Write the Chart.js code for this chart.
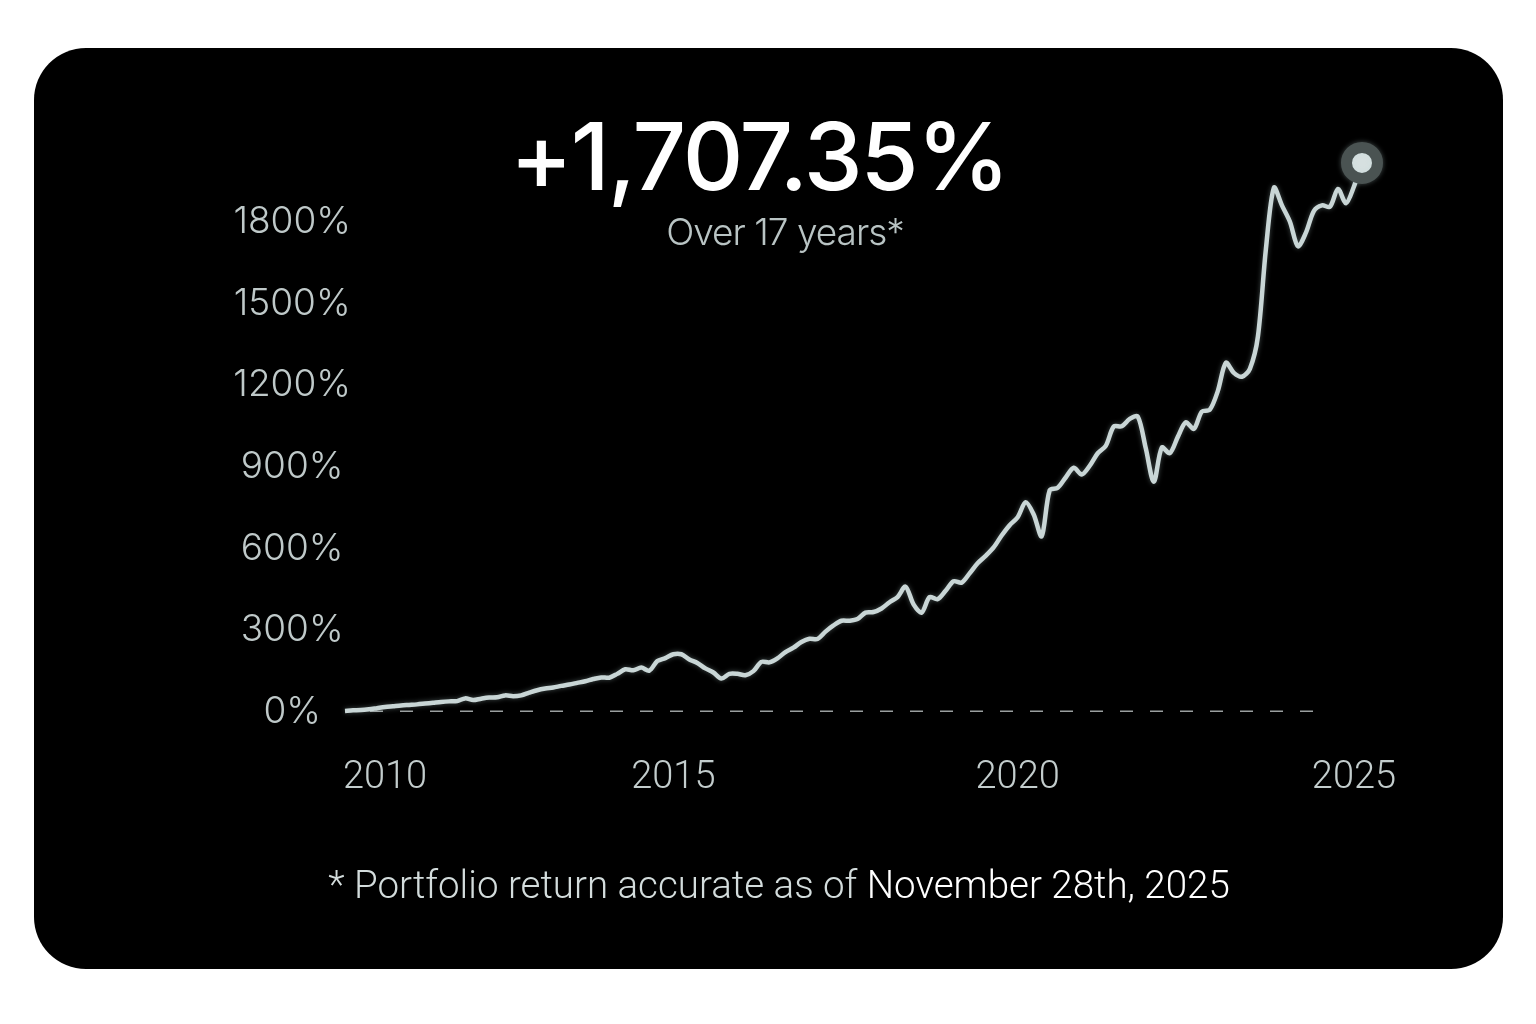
<!DOCTYPE html>
<html>
<head>
<meta charset="utf-8">
<script src="https://cdn.jsdelivr.net/npm/chart.js@4.4.1/dist/chart.umd.min.js"></script>
<style>
  html, body { margin: 0; padding: 0; background: #ffffff; }
  body { width: 1536px; height: 1024px; position: relative; overflow: hidden; }
  .card {
    position: absolute; left: 34px; top: 48px; width: 1469px; height: 921px;
    background: #000; border-radius: 52px;
  }
  #chart { position: absolute; left: 0; top: 0; }
  .txt { position: absolute; white-space: nowrap; line-height: 1; transform: translateX(-50%); }
  .big { left: 759px; top: 99px; font: 500 94px Inter, sans-serif; color: #fff; letter-spacing: -2px; }
  .sub { left: 785px; top: 209px; font: 300 37px Inter, sans-serif; color: #b9c4c4; letter-spacing: -1px; }
  .note { left: 779px; top: 862px; font: 300 38.5px Roboto, sans-serif; color: #d3dcdc; }
  .note span { color: #fff; }
</style>
</head>
<body>
<div class="card"></div>
<canvas id="chart" width="1536" height="1024"></canvas>
<div class="txt big">+1,707.35%</div>
<div class="txt sub">Over 17 years*</div>
<div class="txt note">* Portfolio return accurate as of <span>November 28th, 2025</span></div>
<script>
// cumulative return (%) at even steps
const returns = [
  4, 6, 7, 10, 14, 18, 21, 24, 26, 28,
  31, 34, 37, 39, 40, 50, 44, 49, 53, 54,
  61, 58, 61, 71, 80, 86, 90, 96, 101, 107,
  113, 121, 127, 126, 140, 157, 153, 163, 152, 187,
  198, 212, 212, 193, 180, 160, 145, 123, 140, 140,
  135, 150, 184, 182, 197, 220, 236, 257, 269, 268,
  295, 318, 335, 335, 341, 365, 367, 380, 403, 422,
  460, 395, 365, 422, 414, 445, 480, 475, 509, 546,
  573, 604, 648, 686, 715, 770, 725, 645, 814, 823,
  861, 897, 872, 904, 950, 977, 1048, 1049, 1076, 1085,
  968, 845, 971, 950, 1010, 1064, 1039, 1103, 1110, 1179,
  1282, 1245, 1231, 1260, 1378, 1700, 1925, 1860, 1800, 1710,
  1760, 1840, 1860, 1855, 1920, 1868, 1930, 2016
];
const yearLabels = ['2010', '2015', '2020', '2025'];
const yearIndex = [5, 41, 84, 126];
const yTicks = [0, 300, 600, 900, 1200, 1500, 1800];
const baselineEnd = 121;

const labels = returns.map((_, i) => {
  const k = yearIndex.indexOf(i);
  return k >= 0 ? yearLabels[k] : '';
});
const baseline = returns.map((_, i) => (i <= baselineEnd ? 0 : null));
const lastIdx = returns.length - 1;

const glow = {
  id: 'glow',
  beforeDatasetDraw(chart, args) {
    if (args.index !== 0) return;
    const ctx = chart.ctx;
    ctx.save();
    ctx.shadowColor = 'rgba(190, 215, 215, 0.35)';
    ctx.shadowBlur = 5;
  },
  afterDatasetDraw(chart, args) {
    if (args.index !== 0) return;
    chart.ctx.restore();
  }
};

new Chart(document.getElementById('chart'), {
  type: 'line',
  data: {
    labels: labels,
    datasets: [
      {
        data: returns,
        borderColor: '#c9d6d6',
        borderWidth: 4.5,
        tension: 0.3,
        clip: false,
        pointRadius: returns.map((_, i) => (i === lastIdx ? 15.5 : 0)),
        pointBackgroundColor: '#d6e0e0',
        pointBorderColor: '#4a5352',
        pointBorderWidth: 11,
        order: 0
      },
      {
        data: baseline,
        borderColor: '#9a9f9f',
        borderWidth: 3,
        borderDash: [13, 17],
        borderDashOffset: 5,
        pointRadius: 0,
        order: 1
      }
    ]
  },
  options: {
    responsive: false,
    animation: false,
    layout: { padding: { left: 170, right: 174, top: 140, bottom: 0 } },
    plugins: { legend: { display: false }, tooltip: { enabled: false } },
    scales: {
      x: {
        offset: false,
        grid: { display: false },
        border: { display: false },
        ticks: {
          autoSkip: false,
          maxRotation: 0,
          padding: 36,
          color: '#c3cdcd',
          font: { family: 'Roboto', size: 38, weight: 300 },
          callback: (v, i) => labels[i]
        },
        afterFit: (s) => { s.height = 1024 - 712; }
      },
      y: {
        min: 0,
        max: 2100,
        grid: { display: false },
        border: { display: false },
        afterBuildTicks: (s) => { s.ticks = yTicks.map((v) => ({ value: v })); },
        afterFit: (s) => {
          s.width = 175;
          // let labels run a little past the plot edge, as in the picture
          s._computeLabelArea = () => undefined;
        },
        ticks: {
          padding: -14,
          crossAlign: 'center',
          color: '#bfc9c9',
          font: { family: 'Inter', size: 37, weight: 300 },
          callback: (v) => v + '%'
        }
      }
    }
  },
  plugins: [glow]
});
</script>
</body>
</html>
